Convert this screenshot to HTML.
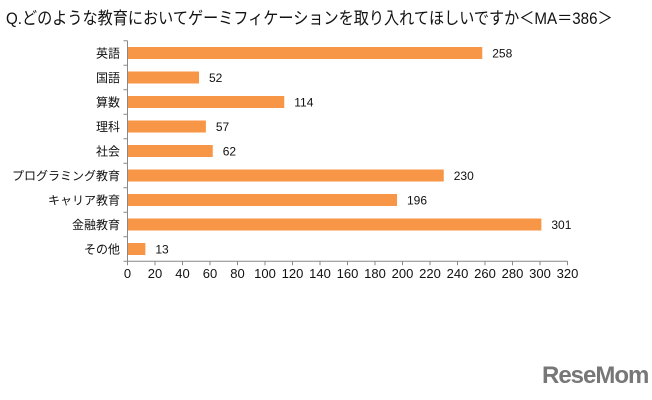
<!DOCTYPE html>
<html><head><meta charset="utf-8"><style>
body{margin:0;background:#fff;width:652px;height:400px;overflow:hidden;font-family:"Liberation Sans","Noto Sans CJK JP",sans-serif;}
#title{position:absolute;left:6px;top:4px;font-size:17px;color:#111;white-space:nowrap;transform:scaleX(0.89);transform-origin:left top}
#logo{position:absolute;left:542px;top:362px;font-size:24px;font-weight:bold;color:#777;letter-spacing:-1px;font-family:"Liberation Sans",sans-serif}
</style></head><body>
<div id="title">Q.どのような教育においてゲーミフィケーションを取り入れてほしいですか＜MA＝386＞</div>
<svg id="chart" width="652" height="400" style="position:absolute;left:0;top:0"></svg>
<div id="logo">ReseMom</div>
<script>
const categories=["英語","国語","算数","理科","社会","プログラミング教育","キャリア教育","金融教育","その他"];
const values=[258,52,114,57,62,230,196,301,13];
const ticks=[0,20,40,60,80,100,120,140,160,180,200,220,240,260,280,300,320];
const NS="http://www.w3.org/2000/svg";
const svgEl=document.getElementById('chart');
const x0=127.5,x1=567.5,plotTop=40.75,plotBottom=261.25,maxV=320;
const xs=v=>x0+(v/maxV)*(x1-x0);
const band=(plotBottom-plotTop)/categories.length;
const yc=i=>plotTop+band*(i+0.5);
function mk(t,a){const e=document.createElementNS(NS,t);for(const k in a)e.setAttribute(k,a[k]);svgEl.appendChild(e);return e;}
categories.forEach((c,i)=>{
  const r=mk('rect',{x:xs(0),y:yc(i)-6,width:xs(values[i])-xs(0),height:12,fill:'#F79646'});
  
  
  const l=mk('text',{x:120,y:yc(i)+4.5,'text-anchor':'end','font-size':12,fill:'#111'});
  l.textContent=c;
  
  
  const v=mk('text',{x:xs(values[i])+10,y:yc(i)+4.5,'font-size':12,fill:'#111'});
  v.textContent=values[i];
  
  
});
for(let i=0;i<=categories.length;i++){const y=plotTop+band*i;mk('line',{x1:x0-4,x2:x0,y1:y,y2:y,stroke:'#888'});}
const ya=mk('line',{x1:x0,x2:x0,y1:plotTop,y2:plotBottom,stroke:'#888'});


const xa=mk('line',{x1:x0,x2:x1,y1:plotBottom,y2:plotBottom,stroke:'#888'});


ticks.forEach(t=>{
  mk('line',{x1:xs(t),x2:xs(t),y1:plotBottom,y2:plotBottom+4,stroke:'#888'});
  const tl=mk('text',{x:xs(t),y:278,'text-anchor':'middle','font-size':13,fill:'#111'});
  tl.textContent=t;
  
  
});
</script>
</body></html>
